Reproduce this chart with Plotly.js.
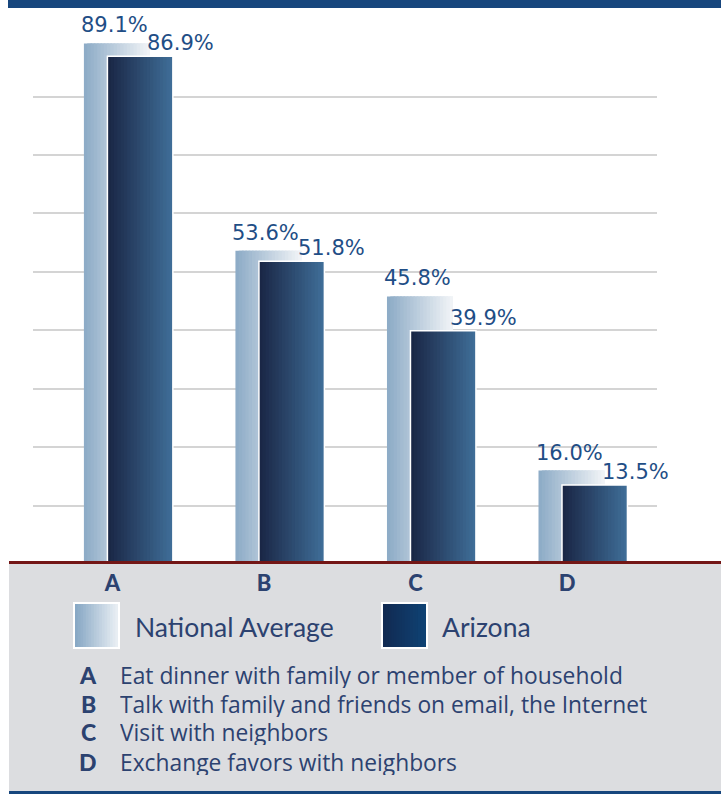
<!DOCTYPE html>
<html><head><meta charset="utf-8">
<script src="https://cdn.plot.ly/plotly-3.0.1.min.js"></script>
<style>html,body{margin:0;padding:0;background:#fff}#chart{width:721px;height:796px}</style>
</head><body><div id="chart"></div>
<script>
// ---- data ----
const categories = ['A', 'B', 'C', 'D'];
const nationalValues = [89.1, 53.6, 45.8, 16.0];
const arizonaValues = [86.9, 51.8, 39.9, 13.5];
const seriesNames = ['National Average', 'Arizona'];
const descriptions = [
  'Eat dinner with family or member of household',
  'Talk with family and friends on email, the Internet',
  'Visit with neighbors',
  'Exchange favors with neighbors'
];
const gridValues = [10, 20, 30, 40, 50, 60, 70, 80];

// ---- geometry / style ----
const W = 721, H = 796, ML = 33, MR = 64, MT = 10, MB = 232;
const PW = W - ML - MR, PH = H - MT - MB;
const px = x => (x - ML) / PW;          // pixel -> paper x
const py = y => (H - MB - y) / PH;      // pixel -> paper y
const TEXT = '#2c4270', VAL = '#1f4e86', BAND = '#17467d';

function lerp(c1, c2, t) {
  const a = [1,3,5].map(i => parseInt(c1.substr(i,2),16));
  const b = [1,3,5].map(i => parseInt(c2.substr(i,2),16));
  return 'rgb(' + a.map((v,i) => Math.round(v + (b[i]-v)*t)).join(',') + ')';
}

const traces = [];
const N = 20;
function gradientBars(values, offset, width, c1, c2, name) {
  const step = width / N;
  for (let k = 0; k < N; k++) {
    const w = Math.min(step * 2.5, width - k * step);
    traces.push({
      type: 'bar', x: categories, y: values, name: name,
      offset: offset + k * step, width: w,
      marker: {color: lerp(c1, c2, k / (N - 1)), line: {width: 0}},
      showlegend: false, hoverinfo: 'skip'
    });
  }
}
const natOff = -0.294, natW = 0.436, azOff = -0.139, azW = 0.432;
gradientBars(nationalValues, natOff, natW, '#8eacc7', '#f0f3f6', seriesNames[0]);
gradientBars(arizonaValues, azOff, azW, '#1a2746', '#3f6d97', seriesNames[1]);
// thin white outline around Arizona bars
traces.push({
  type: 'bar', x: categories, y: arizonaValues, offset: azOff, width: azW,
  marker: {color: 'rgba(0,0,0,0)', line: {color: '#ffffff', width: 1.5}},
  showlegend: false, hoverinfo: 'skip'
});

const annotations = [];
const valFont = {family: 'DejaVu Sans', size: 21, color: VAL};
categories.forEach((c, i) => {
  annotations.push({x: c, y: nationalValues[i], xref: 'x', yref: 'y', text: nationalValues[i].toFixed(1) + '%',
    showarrow: false, yanchor: 'bottom', xshift: -14, yshift: 4, font: valFont});
  annotations.push({x: c, y: arizonaValues[i], xref: 'x', yref: 'y', text: arizonaValues[i].toFixed(1) + '%',
    showarrow: false, yanchor: 'bottom', xshift: 52, yshift: -1, font: valFont});
});

// legend text
annotations.push({xref: 'paper', yref: 'paper', x: px(133), y: py(627), xanchor: 'left', yanchor: 'middle',
  text: seriesNames[0], showarrow: false, font: {family: 'Lato', size: 26.5, color: TEXT}});
annotations.push({xref: 'paper', yref: 'paper', x: px(440), y: py(627), xanchor: 'left', yanchor: 'middle',
  text: seriesNames[1], showarrow: false, font: {family: 'Lato', size: 26.5, color: TEXT}});

// descriptions
const rowY = [675, 703.5, 732.5, 761.5];
descriptions.forEach((d, i) => {
  annotations.push({xref: 'paper', yref: 'paper', x: px(88), y: py(rowY[i]), xanchor: 'center', yanchor: 'middle',
    text: categories[i], showarrow: false, height: 26, valign: 'middle',
    font: {family: 'Lato', size: 23, color: TEXT, weight: 900}});
  annotations.push({xref: 'paper', yref: 'paper', x: px(118), y: py(rowY[i]), xanchor: 'left', yanchor: 'middle',
    text: d, showarrow: false, height: 26, valign: 'middle',
    font: {family: 'Open Sans', size: 22.8, color: TEXT}});
});

const shapes = [];
// top band
shapes.push({type: 'rect', xref: 'paper', yref: 'paper', x0: px(8), x1: px(721), y0: py(0), y1: py(8),
  fillcolor: BAND, line: {width: 0}, layer: 'above'});
// gray panel
shapes.push({type: 'rect', xref: 'paper', yref: 'paper', x0: px(9), x1: px(721), y0: py(563), y1: py(791),
  fillcolor: '#dcdde0', line: {width: 0}, layer: 'below'});
// bottom band line
shapes.push({type: 'rect', xref: 'paper', yref: 'paper', x0: px(9), x1: px(721), y0: py(791), y1: py(794),
  fillcolor: BAND, line: {width: 0}, layer: 'above'});
// baseline
shapes.push({type: 'line', xref: 'paper', yref: 'paper', x0: px(9), x1: px(721), y0: py(562.5), y1: py(562.5),
  line: {color: '#731616', width: 3}, layer: 'above'});
// legend swatches
function swatch(x0, c1, c2) {
  shapes.push({type: 'rect', xref: 'paper', yref: 'paper', x0: px(x0), x1: px(x0 + 47), y0: py(602), y1: py(649),
    fillcolor: '#ffffff', line: {width: 0}});
  const n = 16, inner = 43, step = inner / n;
  for (let k = 0; k < n; k++) {
    const w = Math.min(step * 2.5, inner - k * step);
    shapes.push({type: 'rect', xref: 'paper', yref: 'paper',
      x0: px(x0 + 2 + k * step), x1: px(x0 + 2 + k * step + w), y0: py(604), y1: py(647),
      fillcolor: lerp(c1, c2, k / (n - 1)), line: {width: 0}});
  }
}
swatch(73, '#88a8c5', '#e8eef3');
swatch(381, '#112a52', '#0f4273');

const layout = {
  width: W, height: H, margin: {l: ML, r: MR, t: MT, b: MB, pad: 0},
  paper_bgcolor: '#ffffff', plot_bgcolor: '#ffffff',
  barmode: 'overlay', showlegend: false,
  xaxis: {type: 'category', range: [-0.63, 3.488], showgrid: false, zeroline: false, showline: false,
    ticks: '', ticklabelshift: -16, ticklabelstandoff: 4,
    tickfont: {family: 'Lato', size: 22, color: TEXT, weight: 900}, fixedrange: true},
  yaxis: {range: [0, PH / 5.843], tickvals: gridValues, showticklabels: false, ticks: '',
    showgrid: true, gridcolor: '#d4d4d4', gridwidth: 2, zeroline: false, showline: false, fixedrange: true},
  annotations: annotations, shapes: shapes
};
Plotly.newPlot('chart', traces, layout, {displayModeBar: false, staticPlot: true});
</script></body></html>
